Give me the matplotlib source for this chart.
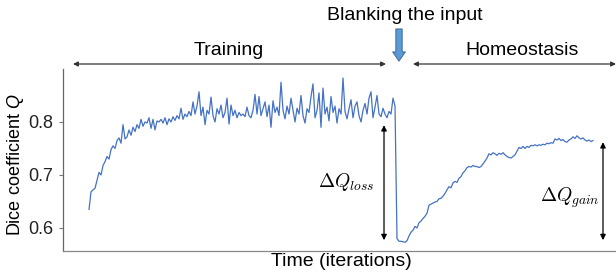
"""Dice coefficient over training and homeostasis."""

import matplotlib
matplotlib.use("Agg")
import matplotlib.pyplot as plt
import numpy as np
from matplotlib.patches import FancyArrowPatch

plt.rcParams["font.family"] = ["Liberation Sans", "DejaVu Sans"]
plt.rcParams["mathtext.fontset"] = "custom"
plt.rcParams["mathtext.rm"] = "Liberation Sans"
plt.rcParams["mathtext.it"] = "Liberation Sans:italic"

# Dice coefficient while training (one value per logged iteration)
training_q = [
    0.635, 0.668, 0.672, 0.675, 0.690, 0.705, 0.700, 0.718, 0.725, 0.735,
    0.730, 0.748, 0.755, 0.750, 0.765, 0.770, 0.760, 0.795, 0.768, 0.772,
    0.785, 0.775, 0.790, 0.782, 0.795, 0.788, 0.805, 0.792, 0.800, 0.798,
    0.808, 0.788, 0.805, 0.785, 0.802, 0.800,
    0.805, 0.798, 0.808, 0.795, 0.806, 0.800, 0.810, 0.803, 0.812, 0.806,
    0.826, 0.805, 0.815, 0.810, 0.820, 0.812, 0.838, 0.815, 0.830, 0.857,
    0.812, 0.828, 0.795, 0.822, 0.815, 0.847, 0.812, 0.800, 0.825, 0.815,
    0.832, 0.808, 0.818, 0.845, 0.796, 0.832, 0.812, 0.822, 0.808, 0.818,
    0.812, 0.815, 0.810, 0.828, 0.812, 0.808, 0.822, 0.852, 0.815, 0.848,
    0.812, 0.825, 0.838, 0.810, 0.832, 0.790, 0.840, 0.818, 0.828, 0.812,
    0.875, 0.822, 0.806, 0.830, 0.815, 0.845, 0.822, 0.800, 0.826, 0.815,
    0.850, 0.812, 0.798, 0.825, 0.818, 0.848, 0.872, 0.808,
    0.822, 0.855, 0.790, 0.864, 0.815, 0.828, 0.802, 0.848, 0.818, 0.830,
    0.798, 0.825, 0.815, 0.883, 0.820, 0.806, 0.825, 0.842, 0.808, 0.830,
    0.838, 0.812, 0.800, 0.822, 0.835, 0.815, 0.845, 0.857, 0.808, 0.828,
    0.850, 0.815, 0.810, 0.826, 0.815, 0.808, 0.820, 0.815, 0.845, 0.830,
]

# Dice coefficient after the input is blanked (homeostasis)
homeostasis_q = [
    0.580, 0.575, 0.575, 0.574, 0.573, 0.576, 0.585, 0.592, 0.596, 0.603,
    0.600, 0.610, 0.613, 0.618, 0.622, 0.628, 0.643, 0.645, 0.647, 0.649,
    0.650, 0.655, 0.656, 0.660, 0.665, 0.672, 0.678, 0.676, 0.685, 0.688,
    0.686, 0.694, 0.697, 0.704, 0.708, 0.714, 0.716, 0.715, 0.718, 0.716,
    0.716, 0.714, 0.716, 0.721, 0.726, 0.732, 0.740, 0.738, 0.742, 0.740,
    0.737, 0.741, 0.739, 0.742, 0.738, 0.735, 0.733, 0.732, 0.735, 0.738,
    0.745, 0.752, 0.750, 0.754, 0.750, 0.754, 0.752, 0.756, 0.755, 0.757,
    0.755, 0.757, 0.756, 0.758, 0.757, 0.760, 0.759, 0.761, 0.760, 0.768,
    0.766, 0.769, 0.765, 0.767, 0.763, 0.762, 0.766, 0.768, 0.772, 0.769,
    0.774, 0.770, 0.768, 0.770, 0.766, 0.764, 0.766, 0.763, 0.765,
]

y_ticks = [0.6, 0.7, 0.8]
q_before = 0.794   # level the loss arrow starts from
q_floor = 0.577    # bottom of both arrows
q_after = 0.762    # level the gain arrow reaches

n_train = len(training_q)
x_train = np.arange(n_train)
x_homeo = np.arange(n_train, n_train + len(homeostasis_q))
x_all = np.concatenate([x_train, x_homeo])
q_all = np.array(training_q + homeostasis_q)

fig = plt.figure(figsize=(6.16, 2.75), dpi=100)
ax = fig.add_axes([0.1023, 0.0873, 0.8977, 0.6618])

ax.plot(x_all, q_all, color="#4472C4", linewidth=0.9)

ax.set_xlim(-13, 263.5)
ax.set_ylim(0.5566, 0.9)
ax.set_yticks(y_ticks)
ax.set_yticklabels([f"{v:.1f}" for v in y_ticks])
ax.set_xticks([])
ax.tick_params(axis="y", labelsize=13, length=3, width=0.8, pad=4,
               color="#777777", labelcolor="#222222")
for side in ("top", "right"):
    ax.spines[side].set_visible(False)
ax.spines["left"].set_color("#666666")
ax.spines["bottom"].set_color("#888888")
ax.spines["left"].set_linewidth(0.9)
ax.spines["bottom"].set_linewidth(0.9)

# loss / gain arrows
arrow_kw = dict(arrowstyle="<|-|>", color="black", lw=0.9, mutation_scale=8,
                shrinkA=0, shrinkB=0)
ax.annotate("", xy=(147.5, q_floor), xytext=(147.5, q_before), arrowprops=arrow_kw)
ax.annotate("", xy=(257, q_floor), xytext=(257, q_after), arrowprops=arrow_kw)
ax.text(128.5, 0.687, r"$\Delta Q_{loss}$", fontsize=14, ha="center",
        va="center", math_fontfamily="cm")
ax.text(240.5, 0.657, r"$\Delta Q_{gain}$", fontsize=14, ha="center",
        va="center", math_fontfamily="cm")

# phase arrows above the axes
phase_kw = dict(arrowstyle="<|-|>", color="#333333", lw=0.9, mutation_scale=7,
                shrinkA=0, shrinkB=0)
y_top = 1 - 64 / 275
fig.add_artist(FancyArrowPatch((73 / 616, y_top), (386 / 616, y_top),
                               transform=fig.transFigure, **phase_kw))
fig.add_artist(FancyArrowPatch((413 / 616, y_top), (616 / 616, y_top),
                               transform=fig.transFigure, **phase_kw))
fig.text(229 / 616, 1 - 50 / 275, "Training", fontsize=14, ha="center", va="center")
fig.text(522 / 616, 1 - 50 / 275, "Homeostasis", fontsize=14, ha="center", va="center")

# blanking marker
fig.add_artist(FancyArrowPatch(
    (399 / 616, 1 - 29 / 275), (399 / 616, 1 - 61 / 275),
    transform=fig.transFigure,
    arrowstyle="simple,head_width=0.9,head_length=0.65,tail_width=0.45",
    mutation_scale=10, facecolor="#5B9BD5", edgecolor="#41719C", lw=0.8,
    shrinkA=0, shrinkB=0))
fig.text(405 / 616, 1 - 15 / 275, "Blanking the input", fontsize=14,
         ha="center", va="center")

fig.text(341 / 616, 1 - 262 / 275, "Time (iterations)", fontsize=14,
         ha="center", va="center")
fig.text(16 / 616, 1 - 165 / 275, "Dice coefficient $Q$", fontsize=13,
         rotation=90, ha="center", va="center")

fig.savefig("out.png", dpi=100)
plt.close(fig)
